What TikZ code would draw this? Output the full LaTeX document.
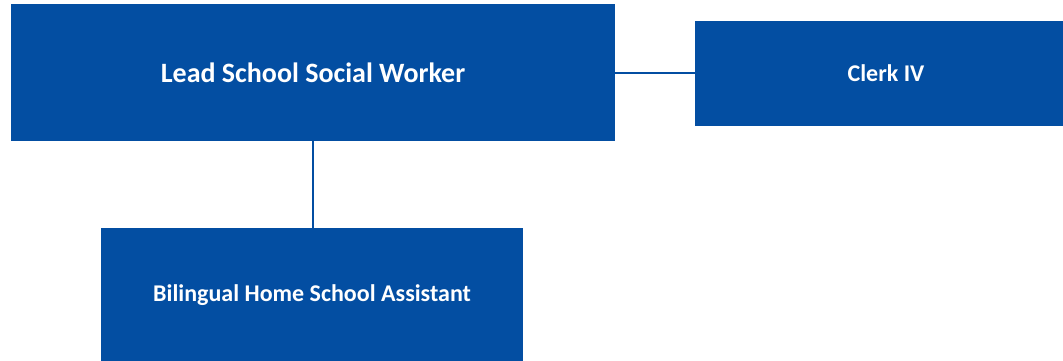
\documentclass[tikz,border=0pt]{standalone}
\usepackage{fontspec}
\setmainfont{Carlito}
\definecolor{boxblue}{HTML}{034EA2}
\begin{document}
\begin{tikzpicture}[x=1pt,y=-1pt,
  orgbox/.style={fill=boxblue,draw=none,inner sep=0pt,text=white,anchor=center},
  conn/.style={draw=boxblue,line width=2pt}]
\useasboundingbox (0,0) rectangle (1063,361);
\node[orgbox,minimum width=604pt,minimum height=137pt,font=\bfseries\fontsize{28}{32}\selectfont] (lead) at (313,72.5) {Lead School Social Worker};
\node[orgbox,minimum width=382pt,minimum height=105pt,font=\bfseries\fontsize{24}{28}\selectfont] (clerk) at (886,73.5) {Clerk IV};
\node[orgbox,minimum width=422pt,minimum height=134pt,font=\bfseries\fontsize{24}{28}\selectfont] (bi) at (312,295) {Bilingual Home School Assistant};
\draw[conn] (lead.east |- 0,73) -- (clerk.west |- 0,73);
\draw[conn] (lead.south -| 313,0) -- (bi.north -| 313,0);
\end{tikzpicture}
\end{document}
